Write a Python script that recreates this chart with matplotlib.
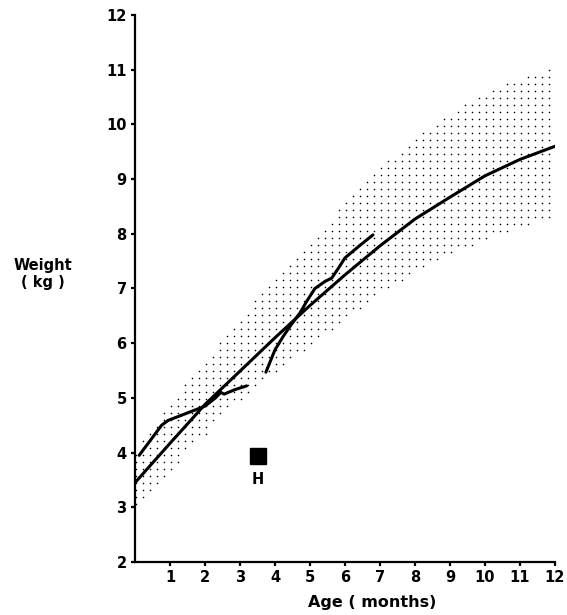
import numpy as np
import matplotlib
matplotlib.use("Agg")
import matplotlib.pyplot as plt

# ── data ─────────────────────────────────────────────────────────────────────
AGE_TICKS = list(range(1, 13))
WEIGHT_TICKS = list(range(2, 13))

median_age = [0, 1, 2, 3, 4, 5, 6, 7, 8, 9, 10, 11, 12]
median_wt = [3.45, 4.17, 4.88, 5.49, 6.10, 6.69, 7.25, 7.78, 8.27, 8.67, 9.06, 9.36, 9.60]

band_age = [0, 0.5, 1, 1.5, 2, 2.5, 3, 3.5, 4, 5, 6, 7, 8, 9, 10, 11, 12]
band_hi = [4.0, 4.45, 4.85, 5.3, 5.62, 6.08, 6.45, 6.82, 7.2, 7.85, 8.55, 9.2, 9.75, 10.2, 10.55, 10.85, 11.05]
band_lo = [3.0, 3.3, 3.6, 4.05, 4.3, 4.7, 4.95, 5.2, 5.45, 5.95, 6.4, 6.9, 7.28, 7.6, 7.87, 8.1, 8.3]

pt1_age = [0.12, 0.76, 0.95, 1.52, 2.0, 2.3, 2.45, 2.55, 2.85, 3.19]
pt1_wt = [3.95, 4.50, 4.59, 4.73, 4.85, 5.00, 5.10, 5.07, 5.15, 5.22]

pt2_age = [3.74, 4.0, 4.24, 4.43, 4.71, 4.9, 5.14, 5.43, 5.62, 5.81, 6.0, 6.43, 6.8]
pt2_wt = [5.47, 5.88, 6.13, 6.31, 6.55, 6.76, 7.00, 7.13, 7.19, 7.37, 7.56, 7.79, 7.98]

H_age, H_wt = 3.5, 3.93

# ── figure ───────────────────────────────────────────────────────────────────
fig = plt.figure(figsize=(5.67, 6.15), dpi=100)
ax = fig.add_axes([135/567, 1-562/615, 420/567, 547/615])

# stippled reference band: regular dot grid kept inside the band
gx, gy = np.meshgrid(np.arange(0.04, 11.95, 0.2), np.arange(2.03, 12, 0.128))
gx, gy = gx.ravel(), gy.ravel()
inside = (gy <= np.interp(gx, band_age, band_hi)) & (gy >= np.interp(gx, band_age, band_lo))
ax.scatter(gx[inside], gy[inside], s=1.3, c="black", marker="o", lw=0, zorder=1)

for xs, ys in [(median_age, median_wt), (pt1_age, pt1_wt), (pt2_age, pt2_wt)]:
    ax.plot(xs, ys, color="black", lw=2.2, solid_capstyle="round",
            solid_joinstyle="round", zorder=3)

ax.plot([H_age], [H_wt], marker="s", ms=12, color="black", zorder=4)
ax.annotate("H", (H_age, H_wt), xytext=(0, -11), textcoords="offset points",
            ha="center", va="top", fontsize=10.5, fontweight="bold")

ax.set_xlim(0, 12); ax.set_ylim(2, 12)
ax.set_xticks(AGE_TICKS); ax.set_yticks(WEIGHT_TICKS)
ax.set_xticklabels([str(a) for a in AGE_TICKS])
ax.set_yticklabels([str(w) for w in WEIGHT_TICKS])
for s in ["top", "right"]:
    ax.spines[s].set_visible(False)
for s in ["left", "bottom"]:
    ax.spines[s].set_linewidth(1.6)
ax.tick_params(direction="out", length=3, width=1.6, labelsize=10.5, pad=3)
for lbl in ax.get_xticklabels() + ax.get_yticklabels():
    lbl.set_fontweight("bold")

fig.text(43/567, 1-274/615, "Weight\n( kg )", ha="center", va="center",
         fontsize=10.5, fontweight="bold", linespacing=1.15)
fig.text(372/567, 1-603/615, "Age ( months)", ha="center", va="center",
         fontsize=11.5, fontweight="bold")

plt.savefig("out.png", dpi=100)
plt.close()
